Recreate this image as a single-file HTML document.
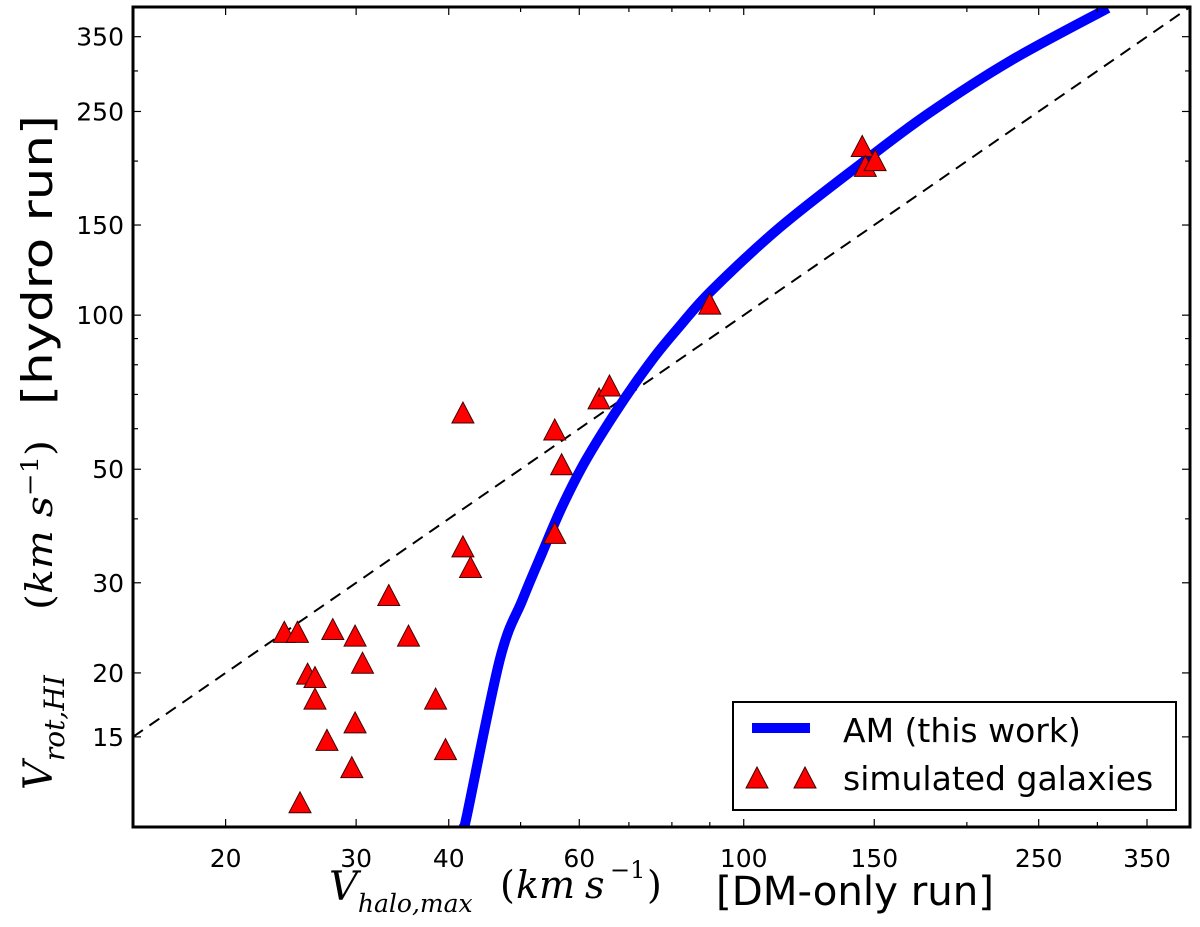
<!DOCTYPE html>
<html><head><meta charset="utf-8"><style>
html,body{margin:0;padding:0;background:#fff;}
svg{display:block;font-family:"DejaVu Sans","Liberation Sans",sans-serif;}
</style></head><body>
<svg id="chart" width="1200" height="927" viewBox="0 0 1200 927" xmlns="http://www.w3.org/2000/svg">
<g id="plot"></g>
<g id="axes"></g>
<g font-family="DejaVu Serif, Liberation Serif, serif">
<text x="329" y="900" font-style="italic" font-size="40">V<tspan font-size="25" dy="12">halo,max</tspan></text>
<text x="500" y="898" font-size="38">(</text>
<text x="516" y="898" font-size="38" font-style="italic">km</text>
<text x="585" y="898" font-size="38" font-style="italic">s</text>
<text x="610" y="878" font-size="24">−1</text>
<text x="647" y="898" font-size="38">)</text>
<text x="716" y="905" font-family="DejaVu Sans, Liberation Sans, sans-serif" font-size="40" textLength="278" lengthAdjust="spacingAndGlyphs">[DM-only run]</text>
</g>
<g transform="translate(52,790) rotate(-90)">
<text x="0" y="0" font-family="DejaVu Serif, Liberation Serif, serif" font-style="italic" font-size="40">V<tspan font-size="28" dy="12">rot,HI</tspan></text>
<text x="180" y="0" font-family="DejaVu Serif, Liberation Serif, serif" font-size="36" textLength="170" lengthAdjust="spacingAndGlyphs">(<tspan font-style="italic">km s</tspan><tspan font-size="24" dy="-14">−1</tspan><tspan dy="14">)</tspan></text>
<text x="385" y="0" font-size="42" textLength="290" lengthAdjust="spacingAndGlyphs">[hydro run]</text>
</g>
<g>
<rect x="733" y="702" width="443" height="108" fill="#fff" stroke="#000" stroke-width="2"/>
<line x1="752" y1="728" x2="810" y2="728" stroke="#0000ff" stroke-width="10"/>
<text x="843" y="742" font-size="33">AM (this work)</text>
<polygon points="757,767 768,788 746,788" fill="#ff0000" stroke="#400" stroke-width="1"/>
<polygon points="805,767 816,788 794,788" fill="#ff0000" stroke="#400" stroke-width="1"/>
<text x="843" y="790" font-size="33">simulated galaxies</text>
</g>
</svg>
<script>
const galX=[33.2,24.0,25.0,27.9,29.9,35.3,30.6,25.8,26.4,26.4,38.4,29.9,27.4,39.6,29.6,25.2,41.8,41.8,42.8,55.6,56.8,55.6,63.8,65.9,90.0,144.5,145.9,150.4];
const galY=[28.2,23.9,23.9,24.2,23.5,23.5,20.8,19.8,19.5,17.7,17.7,15.9,14.7,14.1,13.0,11.1,64.1,35.1,32.0,59.4,50.8,37.3,68.3,72.4,104.6,212.6,194.4,199.5];
const amX=[41.9,42.3,46.9,50.3,53.5,56.9,61.3,67.9,75.2,81.8,90.6,112,144.1,177,229,310];
const amY=[10,10.5,21.3,27.8,34.4,42.3,52.2,66.2,81.7,94.8,111.9,148.6,197.9,247,314,398];
const xTickLabels=[20,30,40,60,100,150,250,350];
const xMinor=[50,70,80,90,200,300];
const yTickLabels=[15,20,30,50,100,150,250,350];
const yMinor=[40,60,70,80,90,200,300];
const X0=133,X1=1190,Y0=827,Y1=7;
const xmin=15,xmax=400,ymin=10,ymax=400;
const sx=v=>X0+(X1-X0)*Math.log10(v/xmin)/Math.log10(xmax/xmin);
const sy=v=>Y0-(Y0-Y1)*Math.log10(v/ymin)/Math.log10(ymax/ymin);
const NS="http://www.w3.org/2000/svg";
const plot=document.getElementById('plot'),axes=document.getElementById('axes');
function mk(t,a,p){const e=document.createElementNS(NS,t);for(const k in a)e.setAttribute(k,a[k]);p.appendChild(e);return e;}
const defs=mk('clipPath',{id:'clip'},plot);mk('rect',{x:X0,y:Y1,width:X1-X0,height:Y0-Y1},defs);
const g=mk('g',{'clip-path':'url(#clip)'},plot);
const dl=mk('line',{x1:sx(xmin),y1:sy(xmin),x2:sx(xmax),y2:sy(xmax),stroke:'#000','stroke-width':2,'stroke-dasharray':'12,8'},g);


const P=amX.map((v,i)=>[sx(v),sy(amY[i])]);
let d='M'+P[0][0]+','+P[0][1];
for(let i=0;i<P.length-1;i++){const p0=P[Math.max(0,i-1)],p1=P[i],p2=P[i+1],p3=P[Math.min(P.length-1,i+2)];
d+=` C${p1[0]+(p2[0]-p0[0])/6},${p1[1]+(p2[1]-p0[1])/6} ${p2[0]-(p3[0]-p1[0])/6},${p2[1]-(p3[1]-p1[1])/6} ${p2[0]},${p2[1]}`;}
const pl=mk('path',{d:d,fill:'none',stroke:'#0000ff','stroke-width':10,'stroke-linejoin':'round'},g);


galX.forEach((v,i)=>{const cx=sx(v),cy=sy(galY[i]);
const t=mk('polygon',{points:`${cx},${cy-12} ${cx+11},${cy+9} ${cx-11},${cy+9}`,fill:'#ff0000',stroke:'#400','stroke-width':1},g);

});
mk('rect',{x:X0,y:Y1,width:X1-X0,height:Y0-Y1,fill:'none',stroke:'#000','stroke-width':3},axes);
function tick(x1,y1,x2,y2){mk('line',{x1,y1,x2,y2,stroke:'#000','stroke-width':1.2},axes);}
xTickLabels.forEach(v=>{const x=sx(v);tick(x,Y0,x,Y0-8);tick(x,Y1,x,Y1+8);
const t=mk('text',{x:x,y:867,'text-anchor':'middle','font-size':25},axes);t.textContent=v;

});
xMinor.forEach(v=>{const x=sx(v);tick(x,Y0,x,Y0-5);tick(x,Y1,x,Y1+5);});
yTickLabels.forEach(v=>{const y=sy(v);tick(X0,y,X0+8,y);tick(X1,y,X1-8,y);
const t=mk('text',{x:124,y:y+9,'text-anchor':'end','font-size':25},axes);t.textContent=v;

});
yMinor.forEach(v=>{const y=sy(v);tick(X0,y,X0+5,y);tick(X1,y,X1-5,y);});
</script>
</body></html>
